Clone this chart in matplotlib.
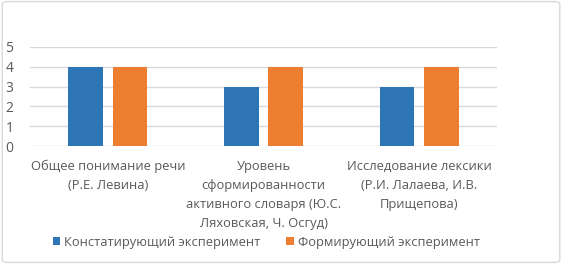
import numpy as np
import matplotlib.pyplot as plt
from matplotlib.patches import FancyBboxPatch

plt.rcParams['font.family'] = ['Open Sans', 'DejaVu Sans']

categories = ["Общее понимание речи\n(Р.Е. Левина)",
              "Уровень\nсформированности\nактивного словаря (Ю.С.\nЛяховская, Ч. Осгуд)",
              "Исследование лексики\n(Р.И. Лалаева, И.В.\nПрищепова)"]
konst = [4, 3, 3]   # Констатирующий эксперимент
form = [4, 4, 4]    # Формирующий эксперимент
series_names = ["Констатирующий эксперимент", "Формирующий эксперимент"]

blue = '#2E75B6'
orange = '#ED7D31'
gray = '#595959'

fig = plt.figure(figsize=(5.62, 2.64), dpi=100)
# рамка вокруг диаграммы
fig.patches.append(FancyBboxPatch((0.004, 0.006), 0.992, 0.988, boxstyle="round,pad=0,rounding_size=0.01",
                                  transform=fig.transFigure, fill=False, ec='#d9d9d9', lw=1))

ax = fig.add_axes([30/562, 1 - 146/264, 467/562, 99/264])
x = np.arange(len(categories))
w = 0.222
ax.bar(x - 0.143, konst, w, color=blue, label=series_names[0], zorder=3)
ax.bar(x + 0.143, form, w, color=orange, label=series_names[1], zorder=3)

ax.set_xlim(-0.5, 2.5)
ax.set_ylim(0, 5)
ax.set_yticks(range(6))
ax.grid(axis='y', color='#d9d9d9', lw=1, zorder=0)
for s in ax.spines.values():
    s.set_visible(False)
ax.set_xticks(x, categories)
ax.tick_params(axis='both', length=0, colors=gray, labelsize=9.3)
ax.tick_params(axis='x', pad=10)
ax.tick_params(axis='y', labelsize=10, pad=12)
for lbl in ax.get_xticklabels():
    lbl.set_linespacing(1.6)

fig.legend(loc='center', bbox_to_anchor=(0.474, 0.083), ncol=2, frameon=False,
           fontsize=9.3, labelcolor=gray, handlelength=0.6, handleheight=0.6,
           handletextpad=0.3, columnspacing=2.0)

plt.savefig('out.png', dpi=100)
